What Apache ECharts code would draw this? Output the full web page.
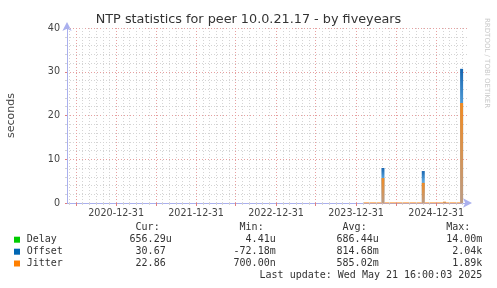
<!DOCTYPE html>
<html><head><meta charset="utf-8">
<script src="https://cdn.jsdelivr.net/npm/echarts@6/dist/echarts.min.js"></script>
<style>html,body{margin:0;padding:0;background:#fff}#c{width:497px;height:288px}</style>
</head><body><div id="c"></div>
<script>
const chartTitle = 'NTP statistics for peer 10.0.21.17 - by fiveyears';
const yTitle = 'seconds';
const credit = 'RRDTOOL / TOBI OETIKER';
const rangeStart = '2020-05-21T16:00:03';
const rangeEnd = '2025-05-21T16:00:03';
const xLabelDates = ['2021-01-01', '2022-01-01', '2023-01-01', '2024-01-01', '2025-01-01'];
const xTickLabels = ['2020-12-31', '2021-12-31', '2022-12-31', '2023-12-31', '2024-12-31'];
const spikeDates = ['2024-05-03', '2024-11-03', '2025-02-08', '2025-04-27'];
const offsetValues = [8.0, 7.3, 0.2, 30.67];
const jitterValues = [5.7, 4.6, 0.3, 22.86];
const baseDates = ['2024-02-05', '2025-04-27'];
const jitterBaseValues = [0, 0];
const legendNames = ['Delay', 'Offset', 'Jitter'];
const legendColors = ['#00cc00', '#0066b3', '#ff8000'];
const statHeaders = ['Cur:', 'Min:', 'Avg:', 'Max:'];
const statCur = ['656.29u', '30.67 ', '22.86 '];
const statMin = ['4.41u', '-72.18m', '700.00n'];
const statAvg = ['686.44u', '814.68m', '585.02m'];
const statMax = ['14.00m', '2.04k', '1.89k'];
const lastUpdate = 'Last update: Wed May 21 16:00:03 2025';

const t = s => new Date(s.length <= 10 ? s + 'T00:00:00' : s).getTime();
const minT = t(rangeStart), maxT = t(rangeEnd);

// month grid positions (grid-line positions, not data)
const minorMonths = [], majorMonths = [];
for (let y = 2020; y <= 2025; y++) {
  for (let m = 0; m < 12; m++) {
    const v = new Date(y, m, 1).getTime();
    if (v <= minT || v >= maxT) continue;
    if (m === 0 || m === 6) majorMonths.push(v); else minorMonths.push(v);
  }
}
const labelVals = xLabelDates.map(t);

const chart = echarts.init(document.getElementById('c'), null, {renderer: 'canvas'});
const mono = '"DejaVu Sans Mono", monospace';
const sans = '"DejaVu Sans", sans-serif';
const axisCol = '#aab0ee';
const majorCol = '#e6a0a0';
const minorCol = '#d4d4d4';

const graphic = [];
graphic.push({type: 'text', x: 248.5, y: 20, style: {text: chartTitle, font: '12.8px ' + sans, fill: '#333', align: 'center', verticalAlign: 'middle'}});
graphic.push({type: 'text', x: 487, y: 18, rotation: -Math.PI / 2, style: {text: credit, font: '7px ' + sans, fill: '#c8c8c8', align: 'left', verticalAlign: 'middle'}});
const colRight = [171.7, 275.7, 378.7, 482.3];
const headerY = 227.7;
statHeaders.forEach((h, i) => {
  graphic.push({type: 'text', x: colRight[i], y: headerY, style: {text: h + '  ', font: '10px ' + mono, fill: '#333', align: 'right', verticalAlign: 'middle'}});
});
const rowY = [239.7, 251.7, 263.5];
const cols = [statCur, statMin, statAvg, statMax];
legendNames.forEach((n, r) => {
  graphic.push({type: 'rect', shape: {x: 14, y: rowY[r] - 3, width: 6, height: 6}, style: {fill: legendColors[r]}});
  graphic.push({type: 'text', x: 26.7, y: rowY[r], style: {text: n, font: '10px ' + mono, fill: '#333', align: 'left', verticalAlign: 'middle'}});
  cols.forEach((c, i) => {
    graphic.push({type: 'text', x: colRight[i], y: rowY[r], style: {text: c[r], font: '10px ' + mono, fill: '#333', align: 'right', verticalAlign: 'middle'}});
  });
});
graphic.push({type: 'text', x: 482.3, y: 275.7, style: {text: lastUpdate, font: '10px ' + mono, fill: '#333', align: 'right', verticalAlign: 'middle'}});

const gridLineSeries = (vals, color, z) => ({
  type: 'line', xAxisIndex: 0, data: [], z: z, silent: true,
  markLine: {silent: true, symbol: ['none', 'none'], animation: false, label: {show: false},
    lineStyle: {color: color, type: [1, 2], width: 1}, emphasis: {disabled: true},
    data: vals.map(v => ({xAxis: v}))}
});

const option = {
  animation: false,
  backgroundColor: '#fff',
  grid: {left: 67, right: 30, top: 28, bottom: 85, containLabel: false, outerBoundsMode: 'none'},
  xAxis: [
    {
      type: 'value', min: minT, max: maxT, scale: true,
      axisLine: {show: true, onZero: false, lineStyle: {color: axisCol, width: 1}, symbol: ['none', 'arrow'], symbolSize: [7, 9], symbolOffset: [0, 5]},
      axisTick: {show: true, customValues: minorMonths, length: 2, lineStyle: {color: minorCol}},
      axisLabel: {show: false},
      splitLine: {show: false}
    },
    {
      type: 'value', min: minT, max: maxT, scale: true, position: 'bottom',
      axisLine: {show: false, onZero: false},
      axisTick: {show: true, customValues: majorMonths, length: 3, lineStyle: {color: '#e08080'}},
      axisLabel: {show: true, customValues: labelVals, hideOverlap: false, fontSize: 9.6, fontFamily: sans, color: '#444', margin: 5,
        formatter: v => { const i = labelVals.indexOf(v); return i >= 0 ? xTickLabels[i] : ''; }},
      splitLine: {show: false}
    }
  ],
  yAxis: [{
    type: 'value', min: 0, max: 40, interval: 10,
    name: yTitle, nameLocation: 'middle', nameGap: 50, nameTextStyle: {fontSize: 11, fontFamily: sans, color: '#444'},
    axisLine: {show: true, onZero: false, lineStyle: {color: axisCol, width: 1}, symbol: ['none', 'arrow'], symbolSize: [7, 9], symbolOffset: [0, 6]},
    axisTick: {show: true, length: 2, lineStyle: {color: '#e08080'}},
    axisLabel: {fontSize: 9.6, fontFamily: sans, color: '#444', margin: 7},
    splitLine: {show: true, lineStyle: {color: majorCol, type: [1, 2], width: 1}},
    minorTick: {show: true, splitNumber: 5, length: 2, lineStyle: {color: minorCol}},
    minorSplitLine: {show: true, lineStyle: {color: minorCol, type: [1, 2], width: 1}}
  }],
  series: [
    gridLineSeries(minorMonths, minorCol, 0),
    gridLineSeries(majorMonths, majorCol, 1),
    {type: 'line', name: 'Jitter baseline', xAxisIndex: 0, symbol: 'none', z: 4,
      data: baseDates.map((d, i) => [t(d), jitterBaseValues[i]]), lineStyle: {color: legendColors[2], width: 1}},
    {type: 'bar', name: 'Offset', xAxisIndex: 0, barWidth: 3, z: 5,
      data: spikeDates.map((d, i) => [t(d), offsetValues[i]]),
      itemStyle: {color: new echarts.graphic.LinearGradient(0, 0, 0, 1, [
        {offset: 0, color: '#1565b0'}, {offset: 0.3, color: '#5aa4dc'}, {offset: 1, color: '#cfe4f5'}])}},
    {type: 'bar', name: 'Jitter', xAxisIndex: 0, barWidth: 3, barGap: '-100%', z: 6,
      data: spikeDates.map((d, i) => [t(d), jitterValues[i]]),
      itemStyle: {color: new echarts.graphic.LinearGradient(0, 0, 0, 1, [
        {offset: 0, color: '#f08a22'}, {offset: 1, color: '#bc9c84'}])}}
  ],
  graphic: graphic
};
chart.setOption(option);
</script></body></html>
